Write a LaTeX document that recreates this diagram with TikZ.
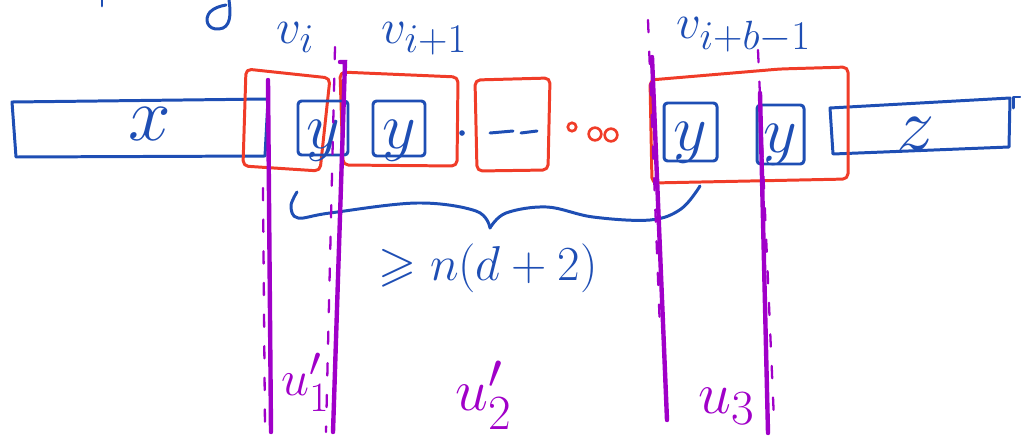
\documentclass[tikz,border=0pt]{standalone}
\usepackage{amsmath,amssymb}
\definecolor{inkblue}{RGB}{30,78,180}
\definecolor{inkred}{RGB}{240,60,40}
\definecolor{inkpurple}{RGB}{160,0,200}
\tikzset{
  blueink/.style={draw=inkblue, line width=1.7pt, line cap=round, line join=round},
  redink/.style={draw=inkred, line width=1.7pt, line cap=round, line join=round, rounded corners=3pt},
  cutline/.style={draw=inkpurple, line width=2.5pt, line cap=round},
  cutdash/.style={draw=inkpurple, line width=1.3pt, line cap=round, dash pattern=on 7pt off 11pt},
  vlabel/.style={text=inkblue, inner sep=0pt, font=\Huge, scale=1.12},
  letter/.style={text=inkblue, inner sep=0pt, font=\Huge, scale=1.75},
  yletter/.style={text=inkblue, inner sep=0pt, font=\Huge, scale=1.5},
  ulabel/.style={text=inkpurple, inner sep=0pt, font=\Huge, scale=1.35},
}
\begin{document}
\begin{tikzpicture}[x=0.02cm, y=-0.02cm]
\useasboundingbox (0,0) rectangle (1021,443);

% strokes cut off at the top edge
\draw[blueink] (102,0) -- (102,6);
\draw[blueink] (229,0) .. controls (231,14) and (231,28) .. (219,29)
  .. controls (207,30) and (204,19) .. (210,12) .. controls (214,8) and (220,6) .. (226,5);

% block x
\draw[blueink] (12,102) -- (268,99) -- (265,156) -- (16,157) -- cycle;
\node[letter, anchor=base] (lx) at (150,140) {$x$};

% block z
\draw[blueink] (830,108) -- (1010,98) -- (1009,147) -- (833,154) -- cycle;
\draw[blueink] (1013,108) -- (1013,97) -- (1020,97);
\node[letter, anchor=base] (lz) at (916,150) {$z$};

% red groups
\draw[redink] (246,69) -- (330,78) -- (320,171) -- (243,166) -- cycle;
\draw[redink] (340,72) -- (458,77) -- (457,166) -- (343,165) -- cycle;
\draw[redink] (475,80) -- (550,78) -- (548,170) -- (477,171) -- cycle;
\draw[redink] (650,80) -- (780,69) -- (848,67) -- (848,179) -- (652,183) -- cycle;

% y blocks
\draw[blueink, rounded corners=2pt] (298,101) rectangle (348,155);
\draw[blueink, rounded corners=2pt] (373,101) rectangle (425,156);
\draw[blueink, rounded corners=2pt] (664,103) rectangle (717,161);
\draw[blueink, rounded corners=2pt] (757,105) rectangle (804,164);
\node[yletter, anchor=base] (y1) at (323,148) {$y$};
\node[yletter, anchor=base] (y2) at (399,148) {$y$};
\node[yletter, anchor=base] (y3) at (690,150) {$y$};
\node[yletter, anchor=base] (y4) at (780,152) {$y$};

% filler between groups
\fill[inkblue] (462,133) circle (1.6pt);
\draw[blueink] (490,133) -- (513,131);
\draw[blueink] (521,133) -- (537,131);
\draw[draw=inkred, line width=1.5pt] (572,127) circle (2.4pt);
\draw[draw=inkred, line width=1.5pt] (595,134) circle (3.6pt);
\draw[draw=inkred, line width=1.5pt] (611,135) circle (3.6pt);

% group labels
\node[vlabel, anchor=base west] (vi)  at (276,43) {$v_i$};
\node[vlabel, anchor=base west] (vip) at (381,43) {$v_{i+1}$};
\node[vlabel, anchor=base west] (vib) at (676,38) {$v_{i+b-1}$};

% brace under the run of blocks
\draw[blueink] plot[smooth, tension=0.6] coordinates
  {(297,192) (291,206) (298,218) (330,213) (417,203) (476,211) (490,228)};
\draw[blueink] plot[smooth, tension=0.6] coordinates
  {(490,228) (506,213) (547,207) (593,217) (650,220) (681,209) (700,186)};
\node[vlabel, anchor=center] (bnd) at (488,268) {$\geqslant n(d+2)$};

% cut lines
\draw[cutline] (268,80) -- (271,432);
\draw[cutline] (340,62) -- (345,62) -- (333,432);
\draw[cutline] (652,57) -- (667,420);
\draw[cutline] (760,93) -- (768,433);
\draw[cutdash] (263,188) -- (265,430);
\draw[cutdash] (335,47) -- (326,432);
\draw[cutdash] (648,20) -- (660,330);
\draw[cutdash] (758,50) -- (774,420);

% part labels
\node[ulabel, anchor=base west, scale=0.85] (u1) at (281,395) {$u_1'$};
\node[ulabel, anchor=base west] (u2) at (455,410) {$u_2'$};
\node[ulabel, anchor=base west] (u3) at (698,413) {$u_3$};
\end{tikzpicture}
\end{document}
